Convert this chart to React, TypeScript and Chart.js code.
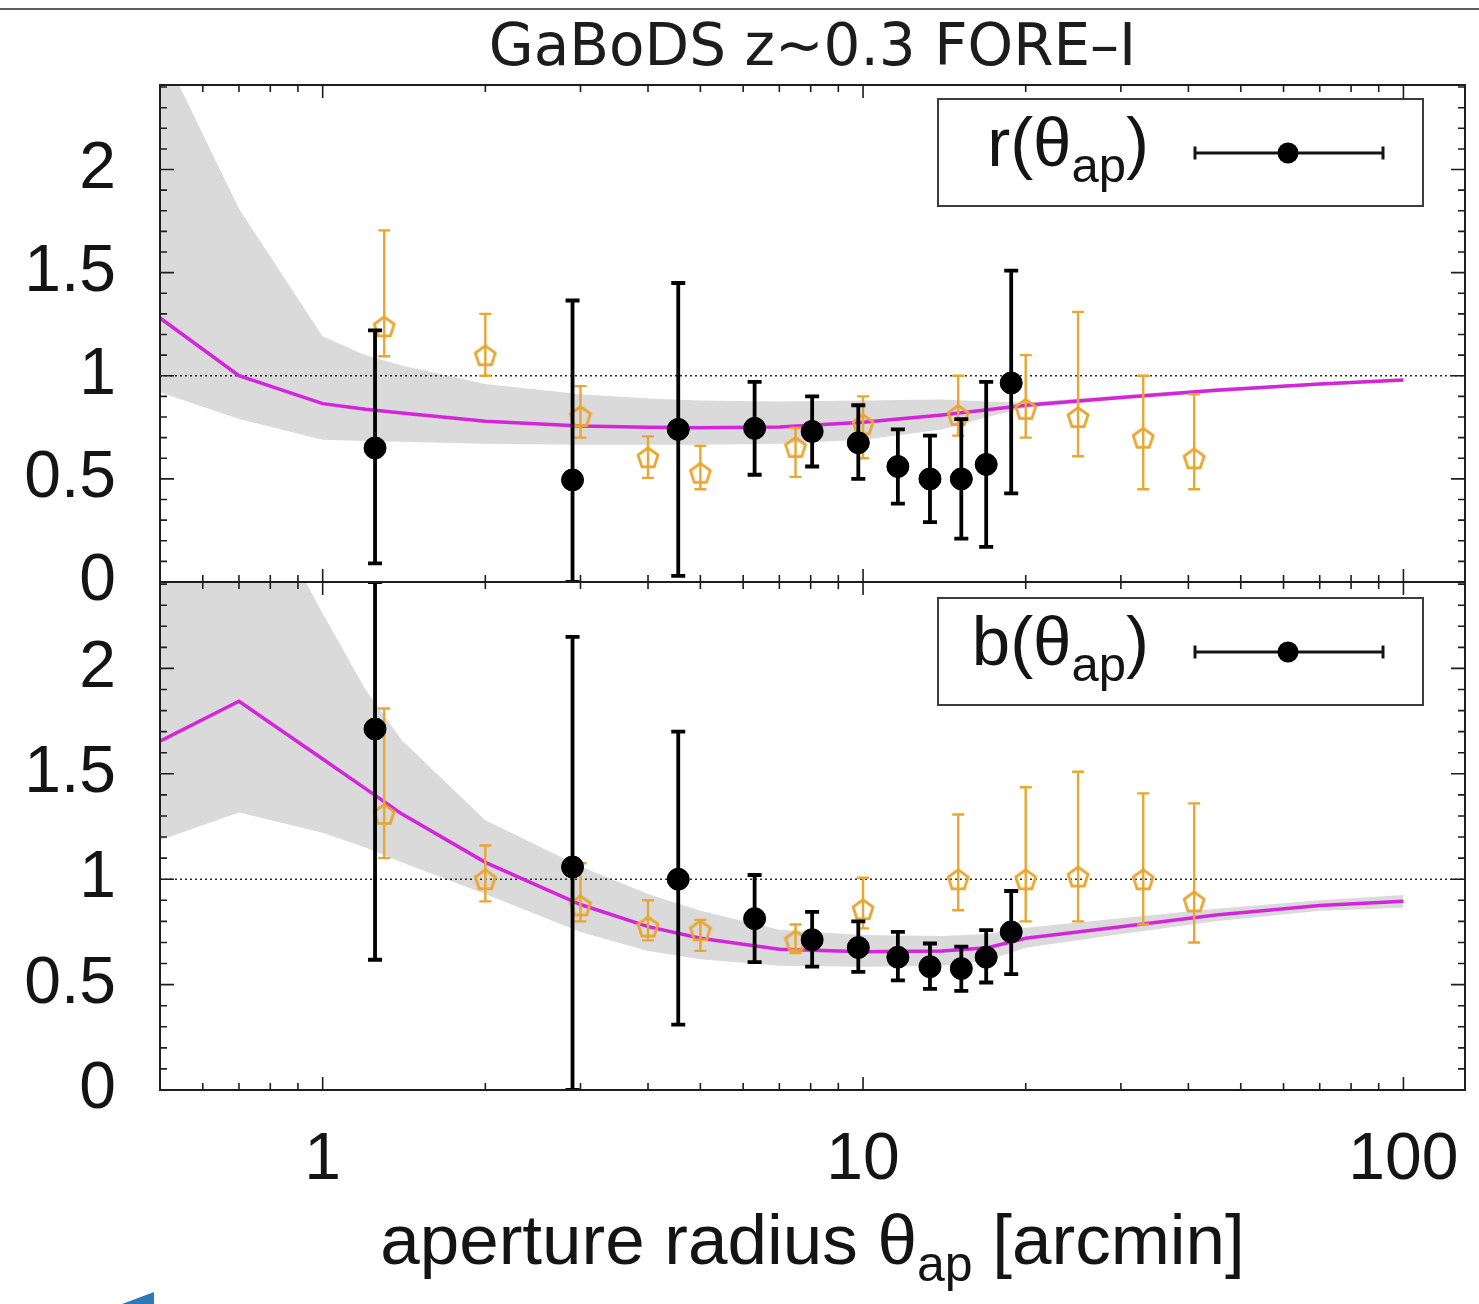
import React, { useEffect, useRef } from "react";
import { Chart, registerables } from "chart.js";

Chart.register(...registerables);

// ---------------- data ----------------
const X_MIN = 0.5;
const X_MAX = 130;
const Y_MIN = 0;
const Y_MAX = 2.41;
const yTickValues = [0, 0.5, 1, 1.5, 2];
const xTickValues = [1, 10, 100];
const unityX = [X_MIN, X_MAX];
const unityY = [1, 1];

// measured points (black, filled circles)
const blackX = [1.25, 2.9, 4.55, 6.3, 8.05, 9.8, 11.6, 13.3, 15.2, 16.9, 18.8];
const rBlack = [0.65, 0.495, 0.74, 0.745, 0.73, 0.675, 0.56, 0.5, 0.5, 0.57, 0.965];
const rBlackLo = [0.09, 0.0, 0.03, 0.52, 0.56, 0.5, 0.38, 0.29, 0.21, 0.17, 0.43];
const rBlackHi = [1.22, 1.365, 1.45, 0.97, 0.9, 0.857, 0.74, 0.71, 0.79, 0.97, 1.51];
const bBlack = [1.713, 1.058, 1.0, 0.813, 0.713, 0.676, 0.63, 0.585, 0.576, 0.63, 0.75];
const bBlackLo = [0.618, 0.0, 0.31, 0.607, 0.585, 0.56, 0.52, 0.48, 0.47, 0.51, 0.55];
const bBlackHi = [2.41, 2.15, 1.7, 1.02, 0.845, 0.8, 0.75, 0.695, 0.68, 0.758, 0.944];

// comparison points (orange, open pentagons)
const orangeX = [1.3, 2.0, 3.0, 4.0, 5.0, 7.5, 10, 15, 20, 25, 33, 41];
const rOrange = [1.24, 1.1, 0.805, 0.605, 0.53, 0.655, 0.765, 0.81, 0.84, 0.8, 0.7, 0.6];
const rOrangeLo = [1.095, 1.0, 0.7, 0.505, 0.45, 0.51, 0.6, 0.71, 0.7, 0.61, 0.45, 0.45];
const rOrangeHi = [1.705, 1.3, 0.95, 0.706, 0.66, 0.747, 0.9, 1.0, 1.1, 1.31, 1.0, 0.91];
const bOrange = [1.31, 1.0, 0.876, 0.776, 0.758, 0.71, 0.858, 1.0, 1.0, 1.013, 1.0, 0.895];
const bOrangeLo = [1.1, 0.895, 0.8, 0.71, 0.66, 0.65, 0.767, 0.853, 0.8, 0.8, 0.785, 0.7];
const bOrangeHi = [1.81, 1.16, 1.076, 0.9, 0.807, 0.785, 1.007, 1.307, 1.436, 1.51, 1.407, 1.36];

// model curve and its uncertainty band
const modelX = [0.5, 0.7, 1, 1.2, 1.4, 2, 3, 4, 5, 7, 10, 14, 17, 20, 30, 45, 70, 100];
const rModel = [1.28, 1.0, 0.865, 0.838, 0.82, 0.78, 0.757, 0.75, 0.748, 0.752, 0.775, 0.81, 0.835, 0.857, 0.895, 0.93, 0.96, 0.98];
const rBandHi = [2.6, 1.81, 1.19, 1.1, 1.05, 0.96, 0.91, 0.89, 0.88, 0.875, 0.88, 0.885, 0.875, 0.87, 0.905, 0.94, 0.968, 0.988];
const rBandLo = [0.92, 0.79, 0.69, 0.684, 0.68, 0.67, 0.665, 0.665, 0.665, 0.67, 0.69, 0.74, 0.8, 0.845, 0.885, 0.92, 0.952, 0.972];
const bModel = [1.655, 1.844, 1.57, 1.43, 1.31, 1.08, 0.88, 0.775, 0.72, 0.668, 0.656, 0.66, 0.675, 0.72, 0.775, 0.83, 0.875, 0.895];
const bBandHi = [3.2, 3.0, 2.26, 1.9, 1.66, 1.28, 1.06, 0.93, 0.85, 0.76, 0.735, 0.73, 0.74, 0.77, 0.815, 0.86, 0.9, 0.925];
const bBandLo = [1.185, 1.316, 1.22, 1.15, 1.08, 0.93, 0.75, 0.66, 0.62, 0.59, 0.585, 0.59, 0.615, 0.675, 0.74, 0.8, 0.85, 0.865];

// ---------------- styles ----------------
const FONT = '"Liberation Sans", Arial, Helvetica, sans-serif';
const ORANGE = "#e8a632";
const MAGENTA = "#d424dc";
const BAND = "#dadada";
const INK = "#141414";

type PanelDef = {
  model: number[];
  bandHi: number[];
  bandLo: number[];
  black: number[];
  blackLo: number[];
  blackHi: number[];
  orange: number[];
  orangeLo: number[];
  orangeHi: number[];
};

const topPanel: PanelDef = {
  model: rModel, bandHi: rBandHi, bandLo: rBandLo,
  black: rBlack, blackLo: rBlackLo, blackHi: rBlackHi,
  orange: rOrange, orangeLo: rOrangeLo, orangeHi: rOrangeHi,
};
const bottomPanel: PanelDef = {
  model: bModel, bandHi: bBandHi, bandLo: bBandLo,
  black: bBlack, blackLo: bBlackLo, blackHi: bBlackHi,
  orange: bOrange, orangeLo: bOrangeLo, orangeHi: bOrangeHi,
};

function makePentagon(color: string, r: number, lw: number) {
  const size = Math.ceil(2 * r + lw + 4);
  const c = document.createElement("canvas");
  c.width = size;
  c.height = size;
  const g = c.getContext("2d")!;
  g.strokeStyle = color;
  g.lineWidth = lw;
  g.lineJoin = "miter";
  g.beginPath();
  for (let k = 0; k < 5; k++) {
    const ang = -Math.PI / 2 + (k * 2 * Math.PI) / 5;
    const px = size / 2 + r * Math.cos(ang);
    const py = size / 2 + r * Math.sin(ang) + r * 0.1;
    if (k === 0) g.moveTo(px, py);
    else g.lineTo(px, py);
  }
  g.closePath();
  g.stroke();
  return c;
}

const pts = (xs: number[], ys: number[]) => xs.map((x, i) => ({ x, y: ys[i] }));

const errorBarPlugin = {
  id: "errorBars",
  beforeDatasetDraw(chart: any, args: any) {
    const ds: any = chart.data.datasets[args.index];
    if (!ds.errLo) return;
    const { ctx, chartArea: a } = chart;
    const xs = chart.scales.x;
    const ys = chart.scales.y;
    ctx.save();
    ctx.beginPath();
    ctx.rect(a.left, a.top, a.right - a.left, a.bottom - a.top);
    ctx.clip();
    ctx.strokeStyle = ds.errColor;
    ctx.lineWidth = ds.errWidth;
    ds.data.forEach((p: any, i: number) => {
      const px = xs.getPixelForValue(p.x);
      const y1 = ys.getPixelForValue(ds.errLo[i]);
      const y2 = ys.getPixelForValue(ds.errHi[i]);
      ctx.beginPath();
      ctx.moveTo(px, y1);
      ctx.lineTo(px, y2);
      ctx.moveTo(px - ds.capHalf, y1);
      ctx.lineTo(px + ds.capHalf, y1);
      ctx.moveTo(px - ds.capHalf, y2);
      ctx.lineTo(px + ds.capHalf, y2);
      ctx.stroke();
    });
    ctx.restore();
  },
};

const framePlugin = {
  id: "frame",
  afterDraw(chart: any) {
    const { ctx, chartArea: a } = chart;
    const xs = chart.scales.x;
    const ys = chart.scales.y;
    ctx.save();
    ctx.strokeStyle = "#1e1e1e";
    ctx.lineWidth = 1.6;
    ctx.beginPath();
    // y ticks every 0.1, major every 0.5
    for (let i = 0; i <= 24; i++) {
      const v = i / 10;
      const py = ys.getPixelForValue(v);
      const L = i % 5 === 0 ? 14 : 7;
      ctx.moveTo(a.left, py);
      ctx.lineTo(a.left + L, py);
      ctx.moveTo(a.right, py);
      ctx.lineTo(a.right - L, py);
    }
    // log x ticks
    [0.1, 1, 10, 100].forEach((d) => {
      for (let k = 1; k <= 9; k++) {
        const v = k * d;
        if (v < X_MIN - 1e-9 || v > X_MAX) continue;
        const px = xs.getPixelForValue(v);
        const L = k === 1 ? 13 : 7;
        ctx.moveTo(px, a.bottom);
        ctx.lineTo(px, a.bottom - L);
        ctx.moveTo(px, a.top);
        ctx.lineTo(px, a.top + L);
      }
    });
    ctx.stroke();
    ctx.lineWidth = 2;
    ctx.strokeRect(a.left, a.top, a.right - a.left, a.bottom - a.top);
    ctx.restore();
  },
};

function makeConfig(p: PanelDef, showX: boolean, pad: any): any {
  const pent = makePentagon(ORANGE, 10.5, 2.8);
  const tickFont = { family: FONT, size: 66 };
  return {
    type: "line",
    data: {
      datasets: [
        {
          label: "bandLo", data: pts(modelX, p.bandLo), borderWidth: 0,
          borderColor: "rgba(0,0,0,0)", pointRadius: 0, fill: false, order: 6, tension: 0,
        },
        {
          label: "bandHi", data: pts(modelX, p.bandHi), borderWidth: 0,
          borderColor: "rgba(0,0,0,0)", backgroundColor: BAND, pointRadius: 0,
          fill: "-1", order: 5, tension: 0,
        },
        {
          label: "unity", data: pts(unityX, unityY), borderColor: "#2a2a2a",
          borderWidth: 1.5, borderDash: [2, 3], pointRadius: 0, fill: false, order: 4,
        },
        {
          label: "model", data: pts(modelX, p.model), borderColor: MAGENTA,
          borderWidth: 3.5, pointRadius: 0, fill: false, order: 3, tension: 0,
        },
        {
          label: "orange", data: pts(orangeX, p.orange), showLine: false,
          pointStyle: pent, pointRadius: 10, fill: false, order: 2,
          errLo: p.orangeLo, errHi: p.orangeHi, errColor: ORANGE, errWidth: 2.4, capHalf: 6,
        },
        {
          label: "black", data: pts(blackX, p.black), showLine: false,
          pointStyle: "circle", pointRadius: 11, pointBackgroundColor: "#000",
          pointBorderColor: "#000", pointBorderWidth: 1, fill: false, order: 1,
          errLo: p.blackLo, errHi: p.blackHi, errColor: "#000", errWidth: 3.8, capHalf: 7,
        },
      ],
    },
    options: {
      responsive: false,
      animation: false,
      devicePixelRatio: 1,
      events: [],
      layout: { padding: pad },
      plugins: {
        legend: { display: false },
        tooltip: { enabled: false },
        title: { display: false },
      },
      scales: {
        x: {
          type: "logarithmic",
          min: X_MIN,
          max: X_MAX,
          display: showX,
          position: "bottom",
          afterBuildTicks: (s: any) => {
            s.ticks = xTickValues.map((v) => ({ value: v }));
          },
          afterFit: (s: any) => {
            if (showX) s.height = 120;
            s.paddingLeft = 0;
            s.paddingRight = 0;
          },
          ticks: {
            padding: 31,
            autoSkip: false,
            maxRotation: 0,
            minRotation: 0,
            color: INK,
            font: tickFont,
            callback: (v: any) => String(v),
          },
          grid: { display: false, drawTicks: false },
          border: { display: false },
        },
        y: {
          type: "linear",
          min: Y_MIN,
          max: Y_MAX,
          position: "left",
          afterBuildTicks: (s: any) => {
            s.ticks = yTickValues.map((v) => ({ value: v }));
          },
          afterFit: (s: any) => {
            s.width = 160;
            s.paddingTop = 0;
            s.paddingBottom = 0;
          },
          ticks: {
            padding: 44,
            color: INK,
            font: tickFont,
            callback: (v: any) => String(v),
          },
          grid: { display: false, drawTicks: false },
          border: { display: false },
        },
      },
    },
    plugins: [errorBarPlugin, framePlugin],
  };
}

function LegendSample({ top }: { top: number }) {
  return (
    <svg
      width={210}
      height={30}
      style={{ position: "absolute", left: 1185, top, overflow: "visible" }}
    >
      <line x1={10} y1={15} x2={198} y2={15} stroke={INK} strokeWidth={3} />
      <line x1={10} y1={8.5} x2={10} y2={21.5} stroke={INK} strokeWidth={3} />
      <line x1={198} y1={8.5} x2={198} y2={21.5} stroke={INK} strokeWidth={3} />
      <circle cx={103} cy={15} r={10.5} fill="#000" />
    </svg>
  );
}

function LegendBox({ top, sym }: { top: number; sym: string }) {
  return (
    <>
      <div
        style={{
          position: "absolute", left: 937, top, width: 487, height: 109,
          border: "2.5px solid #3c3c3c", boxSizing: "border-box",
        }}
      />
      <div
        style={{
          position: "absolute", left: 900, width: 249, top: top + 11.4,
          fontFamily: FONT, fontSize: 69, lineHeight: "68px", color: INK,
          textAlign: "right", whiteSpace: "nowrap",
        }}
      >
        {sym}(θ
        <span style={{ fontSize: 49, position: "relative", top: 16 }}>ap</span>)
      </div>
      <LegendSample top={top + 40} />
    </>
  );
}

export default function App() {
  const topRef = useRef<HTMLCanvasElement>(null);
  const botRef = useRef<HTMLCanvasElement>(null);

  useEffect(() => {
    const c1 = new Chart(
      topRef.current!,
      makeConfig(topPanel, false, { left: 0, right: 14, top: 85, bottom: 38 })
    );
    const c2 = new Chart(
      botRef.current!,
      makeConfig(bottomPanel, true, { left: 0, right: 14, top: 22, bottom: 94 })
    );
    return () => {
      c1.destroy();
      c2.destroy();
    };
  }, []);

  return (
    <div
      style={{
        position: "fixed", left: 0, top: 0, width: 1479, height: 1304,
        background: "#fff", overflow: "hidden",
      }}
    >
      <div style={{ position: "absolute", left: 0, top: 8, width: 1479, height: 2, background: "#5e5e5e" }} />
      <div
        style={{
          position: "absolute", left: 160, width: 1305, top: 17, textAlign: "center",
          fontFamily: '"DejaVu Sans", sans-serif', fontSize: 58, lineHeight: "56px",
          color: "#1c1c1c", whiteSpace: "nowrap",
        }}
      >
        GaBoDS z~0.3 FORE–I
      </div>
      <canvas
        ref={botRef}
        width={1479}
        height={744}
        style={{ position: "absolute", left: 0, top: 560, width: 1479, height: 744 }}
      />
      <canvas
        ref={topRef}
        width={1479}
        height={620}
        style={{ position: "absolute", left: 0, top: 0, width: 1479, height: 620 }}
      />
      <LegendBox top={98} sym="r" />
      <LegendBox top={597} sym="b" />
      <div
        style={{
          position: "absolute", left: 160, width: 1305, top: 1205, textAlign: "center",
          fontFamily: FONT, fontSize: 71, lineHeight: "70px", color: INK, whiteSpace: "nowrap",
        }}
      >
        aperture radius θ
        <span style={{ fontSize: 50, position: "relative", top: 17 }}>ap</span> [arcmin]
      </div>
      <svg width={40} height={14} style={{ position: "absolute", left: 120, top: 1290 }}>
        <polygon points="2,14 34,2 34,14" fill="#2f78b6" />
      </svg>
    </div>
  );
}
